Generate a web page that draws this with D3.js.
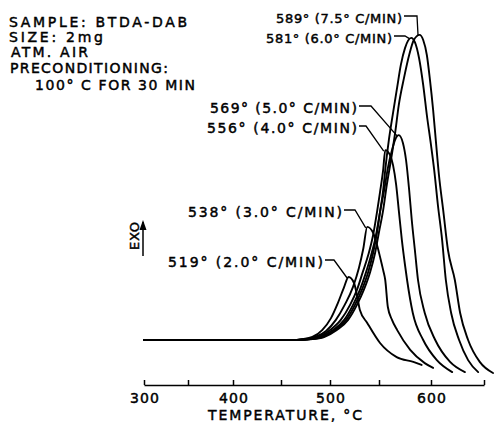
<!DOCTYPE html>
<html>
<head>
<meta charset="utf-8">
<script src="https://cdn.jsdelivr.net/npm/d3@7"></script>
<style>
  body { margin: 0; background: #fff; }
  svg { display: block; }
  text { font-family: "DejaVu Sans", "Liberation Sans", Arial, sans-serif; fill: #000; }
</style>
</head>
<body>
<svg id="chart" width="495" height="422"></svg>
<script>
// DTA exotherms of BTDA-DAB at six heating rates: [temperature °C, signal (arb.)]
const trace519 = [[300,0],[462,0],[470,0.2],[482,1],[492,3.3],[501,7.3],[508,12.3],[514,17.3],[519,21],[524.5,19],[527.5,15],[530.5,10],[538,5.7],[551,-1],[567,-5.7],[583,-7.3],[591,-8.3]];
const trace538 = [[300,0],[464,0],[471.5,0.2],[485,1],[496,3],[506,6.7],[515,11.7],[523.5,17.7],[529.5,24],[534,30.5],[538,37.7],[544,35.7],[548,31.7],[551,27.7],[554,23.3],[556,20],[558.5,11],[562.5,6.7],[567.5,3.3],[580,-3.3],[594,-7.7],[602,-9.3]];
const trace556 = [[300,0],[466,0],[473.5,0.2],[488,1],[500,3.3],[511,6.7],[520.5,11.7],[527.5,16.7],[533.5,22.7],[539,28.3],[544,35],[548,42.7],[551,49.3],[554,56.7],[556,63.3],[560.5,61.7],[563.5,58.3],[566.5,51.7],[569,43.3],[572,33.3],[575,25],[577,20],[582.5,9],[592.5,0],[605.5,-6.7],[620,-10.7]];
const trace569 = [[300,0],[468,0],[475.5,0.2],[490,1],[503,3.3],[514.5,6.7],[523.5,11.7],[530.5,16.7],[536.5,22.3],[542,28.3],[547,35],[551,42.7],[555,50],[558.5,57.3],[562.5,63.3],[565.5,66.7],[569,68.3],[573,65.7],[576,60],[579,50],[581.5,40],[584.5,30],[587.5,20],[594,9],[604,0],[618,-7.3],[632,-10.7]];
const trace581 = [[300,0],[470,0],[477.5,0.2],[492,1],[505,3.3],[516.5,6.7],[525.5,11.7],[532.5,16.7],[539,22.7],[544,29],[548,36],[551,42.7],[554,50],[556.5,58.3],[559.5,66.7],[563.5,75.7],[567.5,84.3],[571,91.7],[575,97.3],[581,100.7],[584.5,99.3],[588.5,94],[592.5,85],[596,75],[600,65],[603,56.7],[606.5,45],[610.5,33.3],[614,20],[619,9],[626.5,0],[635,-6.7],[644.5,-10.7]];
const trace589 = [[300,0],[472,0],[479.5,0.2],[494,1],[507,3.3],[518.5,6.7],[527.5,11.7],[534.5,16.7],[541,22.7],[546,29],[550,36],[554,43.3],[557.5,51.7],[561.5,60],[565.5,69],[569,78.3],[574,87.3],[579,95],[583.5,100],[589,101.7],[592.5,100],[596,95],[599,86.7],[602,76.7],[604.5,66.7],[607.5,55],[611.5,43.3],[616,30],[622.5,20],[627.5,9],[635,0],[646,-7.3],[658.5,-11]];

const traces = [trace519, trace538, trace556, trace569, trace581, trace589];
const peakTemps = [519, 538, 556, 569, 581, 589];
const heatingRates = ["2.0", "3.0", "4.0", "5.0", "6.0", "7.5"];

const axisTicks = [300, 350, 400, 450, 500, 550, 600, 650];
const sampleNotes = ["SAMPLE: BTDA-DAB", "SIZE: 2mg", "ATM. AIR", "PRECONDITIONING:", "100° C FOR 30 MIN"];
const axisTitle = "TEMPERATURE, °C";
const exoLabel = "EXO";

const svg = d3.select("#chart");
const ink = 0.45; // extra stroke so the lettering reads like pen lettering

// The recorder's temperature scale is slightly non-uniform, so map each 50° division
const x = d3.scaleLinear()
  .domain(axisTicks)
  .range([144, 188, 233, 281, 330, 379, 431, 484]);
const y = d3.scaleLinear().domain([0, 100]).range([340, 40]);

const line = d3.line()
  .x(d => x(d[0]))
  .y(d => y(d[1]))
  .curve(d3.curveMonotoneX);

svg.append("g")
  .selectAll("path")
  .data(traces)
  .join("path")
  .attr("d", line)
  .attr("fill", "none")
  .attr("stroke", "#000")
  .attr("stroke-width", 1.9)
  .attr("stroke-linejoin", "round")
  .attr("stroke-linecap", "round");

// Temperature axis with ticks pointing up
const axis = d3.axisBottom(x)
  .tickValues(axisTicks)
  .tickSize(-5)
  .tickSizeOuter(0)
  .tickPadding(8)
  .tickFormat(d => d % 100 === 0 ? String(d) : "");

const gx = svg.append("g").attr("transform", "translate(0,385)").call(axis);
gx.select(".domain").attr("stroke", "#000").attr("stroke-width", 1.5);
gx.selectAll(".tick line").attr("stroke", "#000").attr("stroke-width", 1.5);
gx.selectAll(".tick text")
  .attr("font-family", "DejaVu Sans, sans-serif")
  .attr("font-size", 14)
  .attr("fill", "#000")
  .attr("stroke", "#000").attr("stroke-width", ink)
  .filter(d => d % 100 === 0)
  .attr("textLength", 29).attr("lengthAdjust", "spacing");

svg.append("text")
  .attr("x", 208).attr("y", 420)
  .attr("font-size", 14)
  .attr("textLength", 154).attr("lengthAdjust", "spacing")
  .attr("stroke", "#000").attr("stroke-width", ink)
  .text(axisTitle);

// Sample description block
const noteLayout = [
  { x: 9, y: 27, w: 178 },
  { x: 9, y: 42, w: 94 },
  { x: 11, y: 57, w: 77 },
  { x: 10, y: 73, w: 158 },
  { x: 35, y: 90, w: 160 }
];
svg.append("g")
  .selectAll("text")
  .data(sampleNotes)
  .join("text")
  .attr("x", (d, i) => noteLayout[i].x)
  .attr("y", (d, i) => noteLayout[i].y)
  .attr("textLength", (d, i) => noteLayout[i].w)
  .attr("lengthAdjust", "spacing")
  .attr("font-size", 14)
  .attr("stroke", "#000").attr("stroke-width", ink)
  .text(d => d);

// Peak labels with leader lines
const labelLayout = [
  { xEnd: 323, y: 267, w: 155, size: 14, run: 9 },
  { xEnd: 342, y: 217, w: 154, size: 14, run: 11 },
  { xEnd: 357, y: 133, w: 150, size: 14, run: 7 },
  { xEnd: 357, y: 113, w: 147, size: 14, run: 12 },
  { xEnd: 392, y: 43, w: 126, size: 13, run: 11 },
  { xEnd: 402, y: 23, w: 126, size: 13, run: 13 }
];
const labels = svg.append("g");
peakTemps.forEach((t, i) => {
  const L = labelLayout[i];
  const peak = traces[i].reduce((a, b) => (b[1] > a[1] ? b : a));
  labels.append("text")
    .attr("x", L.xEnd).attr("y", L.y)
    .attr("text-anchor", "end")
    .attr("font-size", L.size)
    .attr("textLength", L.w).attr("lengthAdjust", "spacing")
    .attr("stroke", "#000").attr("stroke-width", ink)
    .text(`${t}° (${heatingRates[i]}° C/MIN)`);
  const ly = L.y - 7;
  labels.append("path")
    .attr("d", d3.line()([
      [L.xEnd + 2, ly],
      [L.xEnd + 2 + L.run, ly],
      [x(peak[0]) - 1.5, y(peak[1]) + 1]
    ]))
    .attr("fill", "none")
    .attr("stroke", "#000")
    .attr("stroke-width", 1.3);
});

// EXO direction marker
const exo = svg.append("g");
exo.append("text")
  .attr("transform", "translate(139,250) rotate(-90)")
  .attr("font-size", 13)
  .attr("textLength", 28).attr("lengthAdjust", "spacing")
  .attr("stroke", "#000").attr("stroke-width", ink)
  .text(exoLabel);
exo.append("line")
  .attr("x1", 143).attr("x2", 143)
  .attr("y1", 256).attr("y2", 222)
  .attr("stroke", "#000").attr("stroke-width", 1.5);
exo.append("path")
  .attr("d", "M139.5,230 L143,220 L146.5,230 Z")
  .attr("fill", "#000");
</script>
</body>
</html>
